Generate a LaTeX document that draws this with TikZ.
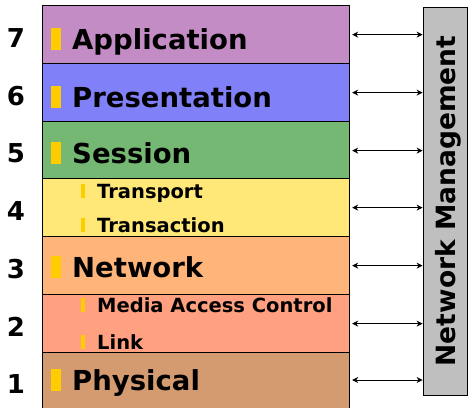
\documentclass[tikz,border=0pt]{standalone}
\usepackage{fontspec}
\setmainfont{DejaVu Sans}
\usetikzlibrary{arrows.meta}

\definecolor{appcol}{HTML}{C48CC4}
\definecolor{precol}{HTML}{8080F8}
\definecolor{sescol}{HTML}{74B874}
\definecolor{tracol}{HTML}{FFE878}
\definecolor{netcol}{HTML}{FFB47A}
\definecolor{lnkcol}{HTML}{FFA080}
\definecolor{phycol}{HTML}{D49A70}
\definecolor{barcol}{HTML}{FFCC00}

\begin{document}
\begin{tikzpicture}[
            x = 1pt, y = -1pt,
            every node/.style={text depth=0pt, inner sep=0pt},
            layer/.style={draw, line width = 1.2pt, anchor=north west, minimum width=307pt, minimum height=58pt},
            num/.style={font=\bfseries\fontsize{26}{26}\selectfont},
            big/.style={anchor=west, font=\bfseries\fontsize{27.5}{27.5}\selectfont},
            small/.style={anchor=west, font=\bfseries\fontsize{19.5}{19.5}\selectfont},
            bigbar/.style={fill=barcol, minimum width=10pt, minimum height=22pt},
            smallbar/.style={fill=barcol, minimum width=4pt, minimum height=14pt},
            mgmt/.style={draw, line width = .8pt, fill=gray!50, rotate=90, minimum width=388pt, minimum height=44pt, font=\bfseries\fontsize{26.5}{26.5}\selectfont},
            link/.style={line width = 1pt, {Stealth[length=6pt,width=6pt]}-{Stealth[length=6pt,width=6pt]}, shorten <=2pt},
            ]
        \useasboundingbox (0, 0) rectangle (468, 407);

        % layers
        \node[layer, fill=appcol] (l7) at (42, 5) {};
        \node[layer, fill=precol] (l6) at (42, 63) {};
        \node[layer, fill=sescol] (l5) at (42, 121) {};
        \node[layer, fill=tracol] (l4) at (42, 178) {};
        \node[layer, fill=netcol] (l3) at (42, 236) {};
        \node[layer, fill=lnkcol] (l2) at (42, 294) {};
        \node[layer, fill=phycol, minimum height=62pt] (l1) at (42, 352) {};

        % numbers
        \node[num] (n7) at (16, 38) {7};
        \node[num] (n6) at (16, 96) {6};
        \node[num] (n5) at (16, 153) {5};
        \node[num] (n4) at (16, 211) {4};
        \node[num] (n3) at (16, 269) {3};
        \node[num] (n2) at (16, 327) {2};
        \node[num] (n1) at (16, 384) {1};

        % titles
        \node[bigbar] (b7) at (56, 39) {};
        \node[big] (t7) at (72, 39) {Application};
        \node[bigbar] (b6) at (56, 97) {};
        \node[big] (t6) at (72, 97) {Presentation};
        \node[bigbar] (b5) at (56, 153) {};
        \node[big] (t5) at (72, 153) {Session};
        \node[smallbar] (b4a) at (83, 191) {};
        \node[small] (t4a) at (97, 191) {Transport};
        \node[smallbar] (b4b) at (83, 225) {};
        \node[small] (t4b) at (97, 225) {Transaction};
        \node[bigbar] (b3) at (56, 267) {};
        \node[big] (t3) at (72, 267) {Network};
        \node[smallbar] (b2a) at (83, 305) {};
        \node[small] (t2a) at (97, 305) {Media Access Control};
        \node[smallbar] (b2b) at (83, 342) {};
        \node[small] (t2b) at (97, 342) {Link};
        \node[bigbar] (b1) at (56, 380) {};
        \node[big] (t1) at (72, 380) {Physical};

        % management
        \node[mgmt] (nm) at (445, 201) {Network Management};

        \draw[link] (l7.east) -- (l7.east -| nm.north);
        \draw[link] (l6.east) -- (l6.east -| nm.north);
        \draw[link] (l5.east) -- (l5.east -| nm.north);
        \draw[link] (l4.east) -- (l4.east -| nm.north);
        \draw[link] (l3.east) -- (l3.east -| nm.north);
        \draw[link] (l2.east) -- (l2.east -| nm.north);
        \draw[link] (l1.east |- t1) -- (t1 -| nm.north);
    \end{tikzpicture}
\end{document}
